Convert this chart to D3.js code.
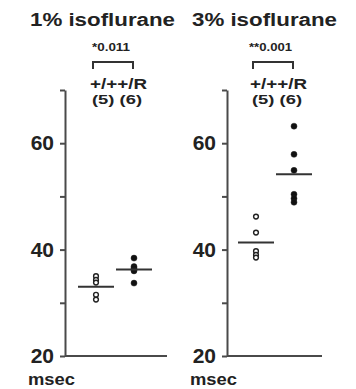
<!DOCTYPE html>
<html>
<head>
<meta charset="utf-8">
<script src="https://cdn.jsdelivr.net/npm/d3@7"></script>
<style>
  body { margin: 0; background: #fff; }
  svg { display: block; font-family: "Liberation Sans", Arial, sans-serif; }
  .axis path, .axis line { stroke: #4a4a4a; stroke-width: 2; }
  .axis text { font-size: 21px; font-weight: bold; fill: #222; }
</style>
</head>
<body>
<div id="canvas"></div>
<script>
// panels / groups
var panels = ['1% isoflurane', '3% isoflurane']
var groups = ['+/+', '+/R']
var pLabels = ['*0.011', '**0.001']
var nLabels = ['(5)', '(6)']

// msec values
var wt1 = [35.0, 34.3, 33.8, 31.5, 30.6]
var rr1 = [38.4, 36.8, 36.5, 36.2, 36.0, 33.7]
var wt3 = [46.2, 43.2, 39.7, 39.0, 38.5]
var rr3 = [63.2, 57.9, 54.9, 50.4, 49.6, 48.9]

var yTicks = [20, 30, 40, 50, 60, 70]
var yLabels = [20, 40, 60]

var series = [[wt1, rr1], [wt3, rr3]]

var W = 356, H = 389
var y_top = 90, y_bot = 356
var x_origin = [65, 227]
var x_len = [102, 95]

let Svg = d3.select('#canvas')
  .append('svg')
  .attr('width', W)
  .attr('height', H)

let yScale = d3.scaleLinear()
  .domain([20, 70])
  .range([y_bot, y_top])

panels.forEach(function (title, p) {
  var x0 = x_origin[p]
  var g = Svg.append('g')

  let xScale = d3.scalePoint()
    .domain(groups)
    .range([x0 + 31 - p * 2, x0 + 69 - p * 2])

  // title
  g.append('text')
    .attr('x', x0 - 35)
    .attr('y', 26)
    .attr('textLength', 145)
    .attr('lengthAdjust', 'spacingAndGlyphs')
    .style('font-size', '18px')
    .style('font-weight', 'bold')
    .style('fill', '#222')
    .text(title)

  // y axis
  let yAxis = d3.axisLeft(yScale)
    .tickValues(yTicks)
    .tickFormat(d => yLabels.includes(d) ? d : '')
    .tickSizeInner(5)
    .tickSizeOuter(0)
    .tickPadding(6)

  g.append('g').attr('class', 'axis')
    .attr('transform', 'translate(' + x0 + ',0)')
    .call(yAxis)

  // x baseline
  g.append('line')
    .attr('x1', x0).attr('x2', x0 + x_len[p])
    .attr('y1', yScale(20)).attr('y2', yScale(20))
    .style('stroke', '#4a4a4a')
    .style('stroke-width', 2)

  g.append('text')
    .attr('x', x0 - 37)
    .attr('y', 385)
    .attr('textLength', 47)
    .attr('lengthAdjust', 'spacingAndGlyphs')
    .style('font-size', '17px')
    .style('font-weight', 'bold')
    .style('fill', '#222')
    .text('msec')

  // significance bracket
  var xa = xScale(groups[0]) - 3, xb = xScale(groups[1]) - 1
  g.append('path')
    .attr('d', 'M' + xa + ',69V62H' + xb + 'V69')
    .style('fill', 'none')
    .style('stroke', '#333')
    .style('stroke-width', 2)

  g.append('text')
    .attr('x', xa - 1 - p * 3)
    .attr('y', 51)
    .attr('textLength', 38 + p * 5)
    .attr('lengthAdjust', 'spacingAndGlyphs')
    .style('font-size', '11px')
    .style('font-weight', 'bold')
    .style('fill', '#222')
    .text(pLabels[p])

  g.append('text')
    .attr('x', xScale(groups[0]) - 6)
    .attr('y', 89)
    .attr('textLength', 57)
    .attr('lengthAdjust', 'spacingAndGlyphs')
    .style('font-size', '14px')
    .style('font-weight', 'bold')
    .style('fill', '#222')
    .text(groups.join(''))

  g.append('text')
    .attr('x', xScale(groups[0]) - 4)
    .attr('y', 104)
    .attr('textLength', 50)
    .attr('lengthAdjust', 'spacingAndGlyphs')
    .style('font-size', '13px')
    .style('font-weight', 'bold')
    .style('fill', '#222')
    .text(nLabels.join(' '))

  // dots + mean lines
  series[p].forEach(function (vals, gi) {
    var cx = xScale(groups[gi])
    g.selectAll('.dot' + gi)
      .data(vals)
      .enter()
      .append('circle')
      .attr('cx', cx)
      .attr('cy', d => yScale(d))
      .attr('r', gi == 0 ? 2.4 : 3)
      .style('fill', gi == 0 ? '#fff' : '#111')
      .style('stroke', '#222')
      .style('stroke-width', gi == 0 ? 1.4 : 0.5)

    var m = d3.mean(vals)
    g.append('line')
      .attr('x1', cx - 18).attr('x2', cx + 18)
      .attr('y1', yScale(m)).attr('y2', yScale(m))
      .style('stroke', '#333')
      .style('stroke-width', 2)
  })
})
</script>
</body>
</html>
